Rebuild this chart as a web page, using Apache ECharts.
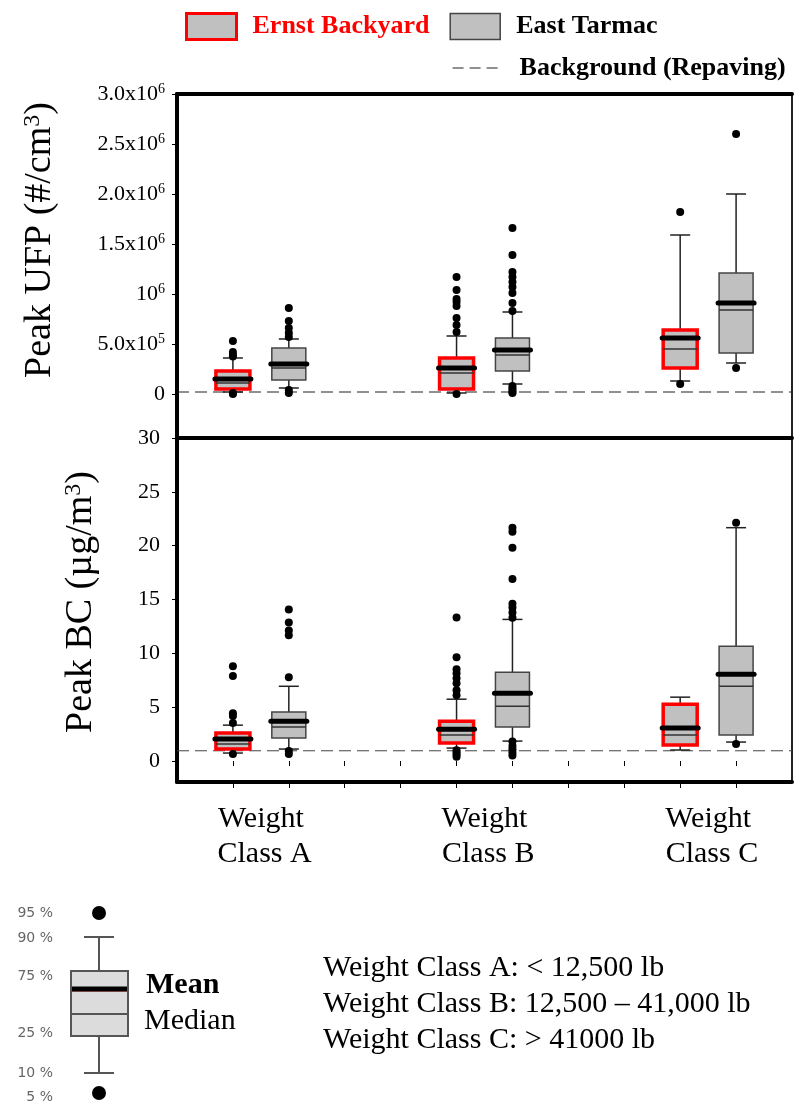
<!DOCTYPE html>
<html>
<head>
<meta charset="utf-8">
<script src="https://cdn.jsdelivr.net/npm/echarts@6/dist/echarts.min.js"></script>
<style>
  html, body { margin: 0; background: #fff; }
  #chart { width: 794px; height: 1110px; }
</style>
</head>
<body>
<div id="chart"></div>
<script>
// slots on the x axis: class A -> 0,1   class B -> 4,5   class C -> 8,9
const classNames = ['Weight Class A', 'Weight Class B', 'Weight Class C'];
const classCenters = [0.5, 4.5, 8.5];
const slotTicks = [0, 1, 2, 3, 4, 5, 6, 7, 8, 9];
const ernstX = [0, 4, 8];
const eastX = [1, 5, 9];

// box stats per class: [p10, p25, median, mean, p75, p90]
const ufpErnst = [
  [20000, 50000, 110000, 150000, 230000, 360000],
  [10000, 50000, 210000, 260000, 360000, 580000],
  [130000, 260000, 450000, 560000, 640000, 1590000]
];
const ufpEast = [
  [60000, 140000, 260000, 300000, 460000, 550000],
  [100000, 230000, 390000, 440000, 560000, 820000],
  [310000, 410000, 840000, 910000, 1210000, 2000000]
];
const ufpErnstOut = [
  [530000, 420000, 390000, 375000, 10000, 0],
  [1170000, 1040000, 950000, 920000, 880000, 760000, 690000, 620000, 0],
  [1820000, 100000]
];
const ufpEastOut = [
  [860000, 730000, 660000, 610000, 570000, 40000, 10000],
  [1660000, 1390000, 1220000, 1170000, 1120000, 1070000, 1010000, 910000, 830000, 80000, 60000, 40000, 20000, 10000],
  [2600000, 260000]
];
const ufpBackground = 20000;

const bcErnst = [
  [0.74, 1.11, 1.57, 2.04, 2.59, 3.33],
  [1.2, 1.67, 2.41, 2.96, 3.70, 5.74],
  [1.02, 1.48, 2.41, 3.06, 5.28, 5.93]
];
const bcEast = [
  [1.11, 2.13, 3.15, 3.70, 4.54, 6.94],
  [1.85, 3.15, 5.09, 6.30, 8.24, 13.15],
  [1.76, 2.41, 6.94, 8.06, 10.65, 21.67]
];
const bcErnstOut = [
  [8.8, 7.9, 4.44, 4.17, 3.52, 0.65],
  [13.33, 9.63, 8.52, 8.15, 7.69, 7.22, 6.57, 6.11, 1.0, 0.8, 0.6, 0.4],
  []
];
const bcEastOut = [
  [14.07, 12.87, 12.13, 11.67, 7.78, 0.93, 0.65],
  [21.67, 21.3, 19.8, 16.9, 14.6, 14.26, 13.8, 13.3, 1.8, 1.4, 1.1, 0.8, 0.5],
  [22.13, 1.57]
];
const bcBackground = 0.95;

const ufpTicks = [0, 500000, 1000000, 1500000, 2000000, 2500000, 3000000];
const ufpTickLabels = ['0', '5.0x10{s|5}', '10{s|6}', '1.5x10{s|6}', '2.0x10{s|6}', '2.5x10{s|6}', '3.0x10{s|6}'];
const bcTicks = [0, 5, 10, 15, 20, 25, 30];

const keyLabels = ['95 %', '90 %', '75 %', '25 %', '10 %', '5 %'];
const classNotes = [
  'Weight Class A: < 12,500 lb',
  'Weight Class B: 12,500 \u2013 41,000 lb',
  'Weight Class C: > 41000 lb'
];

const serif = 'Liberation Serif';
const boxFill = '#c0c0c0';

function boxData(xs, stats) {
  return stats.map((s, i) => [xs[i]].concat(s));
}
function outData(xs, outs) {
  const d = [];
  outs.forEach((arr, i) => arr.forEach(v => d.push([xs[i], v])));
  return d;
}

function renderBox(params, api) {
  const x = api.value(0);
  const ys = [1, 2, 3, 4, 5, 6].map(i => api.coord([x, api.value(i)])[1]);
  const cx = api.coord([x, 0])[0];
  const p10 = ys[0], p25 = ys[1], med = ys[2], mean = ys[3], p75 = ys[4], p90 = ys[5];
  const bw = 34, cw = 20;
  const ernst = params.seriesName === 'Ernst Backyard';
  const wk = { stroke: '#222', lineWidth: 1.5 };
  return {
    type: 'group',
    children: [
      { type: 'line', shape: { x1: cx, y1: p10, x2: cx, y2: p90 }, style: wk },
      { type: 'line', shape: { x1: cx - cw / 2, y1: p10, x2: cx + cw / 2, y2: p10 }, style: wk },
      { type: 'line', shape: { x1: cx - cw / 2, y1: p90, x2: cx + cw / 2, y2: p90 }, style: wk },
      { type: 'rect', shape: { x: cx - bw / 2, y: p75, width: bw, height: p25 - p75 },
        style: { fill: boxFill, stroke: ernst ? '#ff0000' : '#444', lineWidth: ernst ? 3.5 : 1.5 } },
      { type: 'line', shape: { x1: cx - bw / 2, y1: med, x2: cx + bw / 2, y2: med },
        style: { stroke: '#333', lineWidth: 1.5 } },
      { type: 'line', shape: { x1: cx - bw / 2 - 1, y1: mean, x2: cx + bw / 2 + 1, y2: mean },
        style: { stroke: '#000', lineWidth: 5, lineCap: 'round' } }
    ]
  };
}

function frameX(grid, pos, extra) {
  return Object.assign({
    type: 'value', gridIndex: grid, position: pos, min: -1, max: 10,
    axisLine: { show: true, onZero: false, lineStyle: { color: '#000', width: 4 } },
    axisTick: { show: false }, axisLabel: { show: false }, splitLine: { show: false }
  }, extra || {});
}

const tickFont = { fontFamily: serif, fontSize: 22, color: '#000', lineHeight: 24,
  rich: { s: { fontFamily: serif, fontSize: 14, lineHeight: 14, verticalAlign: 'top' } } };

const chart = echarts.init(document.getElementById('chart'));

const option = {
  animation: false,
  backgroundColor: '#fff',
  legend: [{
    left: 180, top: 7, itemWidth: 50, itemHeight: 26, itemGap: 20, selectedMode: false,
    textStyle: { fontFamily: serif, fontSize: 26, fontWeight: 'bold', color: '#000', padding: [0, 0, 0, 11] },
    data: [
      { name: 'Ernst Backyard', icon: 'rect',
        itemStyle: { color: boxFill, borderColor: '#ff0000', borderWidth: 3 },
        textStyle: { color: '#ff0000' } },
      { name: 'East Tarmac', icon: 'rect',
        itemStyle: { color: boxFill, borderColor: '#444', borderWidth: 1.5 } }
    ]
  }, {
    left: 447, top: 50, itemWidth: 50, itemHeight: 26, selectedMode: false,
    textStyle: { fontFamily: serif, fontSize: 26, fontWeight: 'bold', color: '#000', padding: [0, 0, 0, 12] },
    data: [{ name: 'Background (Repaving)', itemStyle: { opacity: 0 },
      lineStyle: { color: '#222', width: 1.2, type: [11, 6] } }]
  }],
  grid: [
    { left: 177, right: 2, top: 94, height: 344 },
    { left: 177, right: 2, top: 438, height: 344 }
  ],
  xAxis: [
    frameX(0, 'bottom'),
    frameX(0, 'top'),
    frameX(1, 'bottom', {
      axisTick: { show: true, customValues: slotTicks, length: 6, lineStyle: { color: '#000', width: 1 } },
      axisLabel: {
        show: true, customValues: classCenters, margin: 20,
        fontFamily: serif, fontSize: 30, lineHeight: 35, color: '#000',
        formatter: v => classNames[classCenters.indexOf(v)].replace(' ', '\n ')
      }
    }),
    frameX(1, 'top', {
      axisLine: { show: false },
      axisTick: { show: true, inside: true, customValues: slotTicks, length: 5, lineStyle: { color: '#000', width: 1 } }
    })
  ],
  yAxis: [
    {
      type: 'value', gridIndex: 0, min: -440000, max: 3000000,
      axisLine: { show: true, onZero: false, lineStyle: { color: '#000', width: 4 } },
      axisTick: { show: true, customValues: ufpTicks, length: 5, lineStyle: { color: '#000' } },
      axisLabel: Object.assign({ customValues: ufpTicks, margin: 12,
        formatter: v => ufpTickLabels[ufpTicks.indexOf(v)] }, tickFont),
      splitLine: { show: false }
    },
    { type: 'value', gridIndex: 0, position: 'right', min: -440000, max: 3000000,
      axisLine: { show: true, onZero: false, lineStyle: { color: '#222', width: 2 } },
      axisTick: { show: false }, axisLabel: { show: false }, splitLine: { show: false } },
    {
      type: 'value', gridIndex: 1, min: -1.95, max: 30,
      axisLine: { show: true, onZero: false, lineStyle: { color: '#000', width: 4 } },
      axisTick: { show: true, customValues: bcTicks, length: 5, lineStyle: { color: '#000' } },
      axisLabel: Object.assign({ customValues: bcTicks, margin: 17 }, tickFont),
      splitLine: { show: false }
    },
    { type: 'value', gridIndex: 1, position: 'right', min: -1.95, max: 30,
      axisLine: { show: true, onZero: false, lineStyle: { color: '#222', width: 2 } },
      axisTick: { show: false }, axisLabel: { show: false }, splitLine: { show: false } }
  ],
  series: [
    { name: 'Background (Repaving)', type: 'line', xAxisIndex: 0, yAxisIndex: 0, symbol: 'none',
      data: [[-1, ufpBackground], [10, ufpBackground]],
      lineStyle: { color: '#222', width: 1, type: [12, 6] }, itemStyle: { color: '#222' }, z: 1 },
    { name: 'Ernst Backyard', type: 'custom', xAxisIndex: 0, yAxisIndex: 0, renderItem: renderBox,
      itemStyle: { color: boxFill }, encode: { x: 0, y: [1, 2, 3, 4, 5, 6] },
      data: boxData(ernstX, ufpErnst), z: 3 },
    { name: 'East Tarmac', type: 'custom', xAxisIndex: 0, yAxisIndex: 0, renderItem: renderBox,
      itemStyle: { color: boxFill }, encode: { x: 0, y: [1, 2, 3, 4, 5, 6] },
      data: boxData(eastX, ufpEast), z: 3 },
    { name: 'UFP outliers', type: 'scatter', xAxisIndex: 0, yAxisIndex: 0, symbolSize: 8,
      itemStyle: { color: '#000', opacity: 1 }, z: 4,
      data: outData(ernstX, ufpErnstOut).concat(outData(eastX, ufpEastOut)) },

    { name: 'Background (Repaving)', type: 'line', xAxisIndex: 2, yAxisIndex: 2, symbol: 'none',
      data: [[-1, bcBackground], [10, bcBackground]],
      lineStyle: { color: '#444', width: 1, type: [12, 6] }, itemStyle: { color: '#222' }, z: 1 },
    { name: 'Ernst Backyard', type: 'custom', xAxisIndex: 2, yAxisIndex: 2, renderItem: renderBox,
      itemStyle: { color: boxFill }, encode: { x: 0, y: [1, 2, 3, 4, 5, 6] },
      data: boxData(ernstX, bcErnst), z: 3 },
    { name: 'East Tarmac', type: 'custom', xAxisIndex: 2, yAxisIndex: 2, renderItem: renderBox,
      itemStyle: { color: boxFill }, encode: { x: 0, y: [1, 2, 3, 4, 5, 6] },
      data: boxData(eastX, bcEast), z: 3 },
    { name: 'BC outliers', type: 'scatter', xAxisIndex: 2, yAxisIndex: 2, symbolSize: 8,
      itemStyle: { color: '#000', opacity: 1 }, z: 4,
      data: outData(ernstX, bcErnstOut).concat(outData(eastX, bcEastOut)) }
  ],
  graphic: [
    // axis titles
    { type: 'text', x: 40, y: 240, rotation: Math.PI / 2,
      style: { text: 'Peak UFP (#/cm{s|3})', fontFamily: serif, fontSize: 38, fill: '#000',
        align: 'center', verticalAlign: 'middle',
        rich: { s: { fontFamily: serif, fontSize: 24, lineHeight: 24, verticalAlign: 'top' } } } },
    { type: 'text', x: 81, y: 602, rotation: Math.PI / 2,
      style: { text: 'Peak BC (\u00b5g/m{s|3})', fontFamily: serif, fontSize: 38, fill: '#000',
        align: 'center', verticalAlign: 'middle',
        rich: { s: { fontFamily: serif, fontSize: 24, lineHeight: 24, verticalAlign: 'top' } } } },

    // box key
    { type: 'group', children: [
      { type: 'line', shape: { x1: 99, y1: 937, x2: 99, y2: 1073 }, style: { stroke: '#555', lineWidth: 2 } },
      { type: 'line', shape: { x1: 84, y1: 937, x2: 114, y2: 937 }, style: { stroke: '#555', lineWidth: 2 } },
      { type: 'line', shape: { x1: 84, y1: 1073, x2: 114, y2: 1073 }, style: { stroke: '#555', lineWidth: 2 } },
      { type: 'rect', shape: { x: 71, y: 971, width: 57, height: 65 }, style: { fill: '#dcdcdc', stroke: '#555', lineWidth: 2 } },
      { type: 'line', shape: { x1: 72, y1: 991.5, x2: 127, y2: 991.5 }, style: { stroke: '#f08a8a', lineWidth: 1 } },
      { type: 'line', shape: { x1: 72, y1: 989, x2: 127, y2: 989 }, style: { stroke: '#000', lineWidth: 5 } },
      { type: 'line', shape: { x1: 72, y1: 1014, x2: 127, y2: 1014 }, style: { stroke: '#555', lineWidth: 2 } },
      { type: 'circle', shape: { cx: 99, cy: 913, r: 7 }, style: { fill: '#000' } },
      { type: 'circle', shape: { cx: 99, cy: 1093, r: 7 }, style: { fill: '#000' } }
    ] },
    ...keyLabels.map((t, i) => ({
      type: 'text', x: 53, y: [913, 938, 976, 1033, 1073, 1097][i],
      style: { text: t, fontFamily: 'DejaVu Sans', fontSize: 14, fill: '#666', align: 'right', verticalAlign: 'middle' }
    })),
    { type: 'text', x: 146, y: 985,
      style: { text: 'Mean', fontFamily: serif, fontSize: 30, fontWeight: 'bold', fill: '#000', verticalAlign: 'middle' } },
    { type: 'text', x: 144, y: 1021,
      style: { text: 'Median', fontFamily: serif, fontSize: 30, fill: '#000', verticalAlign: 'middle' } },

    // weight class notes
    ...classNotes.map((t, i) => ({
      type: 'text', x: 323, y: 968 + i * 36,
      style: { text: t, fontFamily: serif, fontSize: 30, fill: '#000', verticalAlign: 'middle' }
    }))
  ]
};

chart.setOption(option);
</script>
</body>
</html>
